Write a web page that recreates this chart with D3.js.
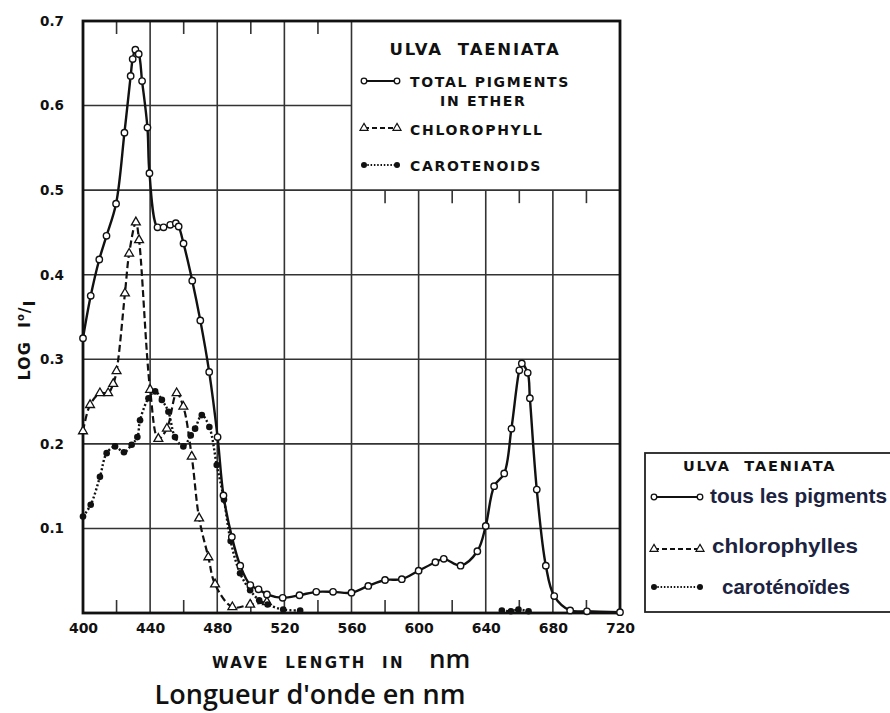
<!DOCTYPE html>
<html>
<head>
<meta charset="utf-8">
<script src="https://cdn.jsdelivr.net/npm/d3@7"></script>
<style>
  html, body { margin: 0; padding: 0; background: #ffffff; }
  svg { display: block; }
</style>
</head>
<body>
<svg id="chart" width="890" height="713"></svg>
<script>
// ---------------- DATA ----------------
const xTickValues = [400, 440, 480, 520, 560, 600, 640, 680, 720];
const yTickValues = [0.1, 0.2, 0.3, 0.4, 0.5, 0.6, 0.7];
const yTickLabels = ["0.1", "0.2", "0.3", "0.4", "0.5", "0.6", "0.7"];
const minorTicks = [420, 460, 500, 540, 580, 620, 660, 700];

const totalWl  = [400, 404.6, 409.7, 414, 419.7, 424.7, 428.4, 429.6, 431.2, 433.2, 435.2, 438.4, 439.6, 444.4, 448, 452, 455.3, 457, 459.9, 465.1, 469.9, 475.2, 480.2, 483.7, 488.7, 493.7, 499.7, 504.6, 509.6, 519, 529, 539, 549, 560, 570, 580, 590, 600, 610, 615, 625, 635, 640, 645, 651, 655.3, 660, 661.5, 665, 666.3, 670.4, 675.8, 680.8, 690.3, 700.3, 720];
const totalVal = [0.325, 0.375, 0.418, 0.446, 0.484, 0.568, 0.635, 0.655, 0.666, 0.661, 0.629, 0.574, 0.520, 0.456, 0.456, 0.459, 0.461, 0.457, 0.437, 0.393, 0.346, 0.285, 0.208, 0.139, 0.090, 0.056, 0.033, 0.028, 0.022, 0.018, 0.021, 0.025, 0.025, 0.024, 0.032, 0.039, 0.040, 0.050, 0.060, 0.064, 0.056, 0.073, 0.103, 0.150, 0.165, 0.218, 0.287, 0.295, 0.284, 0.254, 0.146, 0.056, 0.020, 0.003, 0.002, 0.001];

const chloroWl  = [400, 404.2, 410.1, 415, 418, 420, 425, 427.5, 431.5, 433.4, 440, 444.9, 450, 455.8, 459.8, 464.8, 469.2, 474.7, 478.7, 489, 499.6, 509.6];
const chloroVal = [0.215, 0.246, 0.260, 0.260, 0.271, 0.286, 0.378, 0.425, 0.462, 0.441, 0.264, 0.206, 0.218, 0.260, 0.244, 0.185, 0.112, 0.066, 0.034, 0.007, 0.010, 0.013];

const caroWl  = [400, 404.6, 410.1, 414.1, 419.1, 424.4, 429, 432.4, 434, 439, 443, 447, 450.9, 454.8, 459.8, 464.2, 466.8, 470.8, 475.3, 479.7, 484, 488, 493.6, 499.6, 505, 510, 519.3, 529.4, 590, 649.6, 655, 659.5, 665.5];
const caroVal = [0.114, 0.128, 0.161, 0.189, 0.197, 0.190, 0.199, 0.208, 0.228, 0.254, 0.262, 0.252, 0.238, 0.208, 0.197, 0.210, 0.218, 0.234, 0.220, 0.175, 0.134, 0.085, 0.047, 0.027, 0.015, 0.010, 0.004, 0.003, null, 0.003, 0.002, 0.004, 0.002];

const legendTitle = "ULVA  TAENIATA";
const legendLabels = ["TOTAL PIGMENTS", "IN ETHER", "CHLOROPHYLL", "CAROTENOIDS"];
const frLabels = ["tous les pigments", "chlorophylles", "caroténoïdes"];
const xTitle = "WAVE  LENGTH  IN";
const xTitleUnit = "nm";
const frTitle = "Longueur d'onde en nm";

// ---------------- SETUP ----------------
const svg = d3.select("#chart");
const x = d3.scaleLinear().domain([400, 720]).range([83, 620]);
const y = d3.scaleLinear().domain([0, 0.7]).range([613, 21]);

const ink = "#111";
const gridColor = "#333";
const techFont = "'DejaVu Sans', Verdana, sans-serif";

const toPts = (wl, v) => wl.map((w, i) => ({ w, v: v[i] }));
const total = toPts(totalWl, totalVal);
const chloro = toPts(chloroWl, chloroVal);
const caro = toPts(caroWl, caroVal);

// ---------------- GRID ----------------
const grid = svg.append("g").attr("stroke", gridColor).attr("stroke-width", 1.6);
yTickValues.filter(v => v < 0.7).forEach(v => {
  const x2 = v > 0.5 ? x(560) : x(720);
  grid.append("line").attr("x1", x(400)).attr("x2", x2).attr("y1", y(v)).attr("y2", y(v));
});
xTickValues.filter(v => v > 400 && v < 720).forEach(v => {
  const y1 = v > 560 ? y(0.5) : y(0.7);
  grid.append("line").attr("x1", x(v)).attr("x2", x(v)).attr("y1", y1).attr("y2", y(0));
});
// minor ticks
const tickLen = 13;
minorTicks.forEach(v => {
  grid.append("line").attr("x1", x(v)).attr("x2", x(v)).attr("y1", y(0)).attr("y2", y(0) - tickLen);
  if (v < 560) grid.append("line").attr("x1", x(v)).attr("x2", x(v)).attr("y1", y(0.7)).attr("y2", y(0.7) + tickLen);
  else grid.append("line").attr("x1", x(v)).attr("x2", x(v)).attr("y1", y(0.5)).attr("y2", y(0.5) + tickLen);
});
// frame
svg.append("rect").attr("x", x(400)).attr("y", y(0.7))
  .attr("width", x(720) - x(400)).attr("height", y(0) - y(0.7))
  .attr("fill", "none").attr("stroke", ink).attr("stroke-width", 2.8);

// ---------------- AXES ----------------
const xAxis = d3.axisBottom(x).tickValues(xTickValues).tickSize(0).tickPadding(10).tickFormat(d3.format("d"));
const gx = svg.append("g").attr("transform", `translate(0,${y(0)})`).call(xAxis);
gx.select(".domain").remove();
gx.selectAll("text").attr("font-family", techFont).attr("font-weight", "bold")
  .attr("font-size", 14).attr("fill", ink);

const yAxis = d3.axisLeft(y).tickValues(yTickValues).tickSize(0).tickPadding(19)
  .tickFormat((d, i) => yTickLabels[i]);
const gy = svg.append("g").attr("transform", `translate(${x(400)},0)`).call(yAxis);
gy.select(".domain").remove();
gy.selectAll("text").attr("font-family", techFont).attr("font-weight", "bold")
  .attr("font-size", 13.5).attr("fill", ink);

// Y title
const yt = svg.append("text").attr("transform", "translate(30,340) rotate(-90)")
  .attr("text-anchor", "middle").attr("font-family", techFont).attr("font-weight", "bold")
  .attr("font-size", 16).attr("letter-spacing", 1).attr("fill", ink).attr("xml:space", "preserve");
yt.append("tspan").text("LOG  I");
yt.append("tspan").attr("font-size", 10).attr("dy", -6).text("o");
yt.append("tspan").attr("dy", 6).text("/");
yt.append("tspan").attr("dy", 5).text("I");

// X titles
svg.append("text").attr("x", 212).attr("y", 668).attr("font-family", techFont)
  .attr("font-weight", "bold").attr("font-size", 15).attr("letter-spacing", 2.4).attr("fill", ink)
  .attr("xml:space", "preserve").text(xTitle);
svg.append("text").attr("x", 429).attr("y", 668).attr("font-family", "'Open Sans', sans-serif")
  .attr("font-weight", 600).attr("font-size", 26).attr("fill", "#111").text(xTitleUnit);
svg.append("text").attr("x", 310).attr("y", 704).attr("text-anchor", "middle")
  .attr("font-family", "'Open Sans', sans-serif").attr("font-weight", 600)
  .attr("font-size", 27).attr("fill", "#111").text(frTitle);

// ---------------- SERIES ----------------
const line = d3.line().defined(d => d.v !== null).x(d => x(d.w)).y(d => y(d.v))
  .curve(d3.curveCatmullRom.alpha(0.5));

svg.append("path").datum(caro).attr("d", line).attr("fill", "none").attr("stroke", ink)
  .attr("stroke-width", 2.4).attr("stroke-dasharray", "2,2.2");
svg.append("path").datum(chloro).attr("d", line).attr("fill", "none").attr("stroke", ink)
  .attr("stroke-width", 2.2).attr("stroke-dasharray", "7,3.5");
svg.append("path").datum(total).attr("d", line).attr("fill", "none").attr("stroke", ink)
  .attr("stroke-width", 2.4);

const tri = d3.symbol().type(d3.symbolTriangle).size(34);
svg.append("g").selectAll("path").data(chloro).join("path")
  .attr("d", tri).attr("transform", d => `translate(${x(d.w)},${y(d.v)})`)
  .attr("fill", "#fff").attr("stroke", ink).attr("stroke-width", 1.3);
svg.append("g").selectAll("circle").data(caro.filter(d => d.v !== null)).join("circle")
  .attr("cx", d => x(d.w)).attr("cy", d => y(d.v)).attr("r", 3.3).attr("fill", ink);
svg.append("g").selectAll("circle").data(total).join("circle")
  .attr("cx", d => x(d.w)).attr("cy", d => y(d.v)).attr("r", 3.2)
  .attr("fill", "#fff").attr("stroke", ink).attr("stroke-width", 1.4);

// ---------------- IN-CHART LEGEND ----------------
const lg = svg.append("g").attr("font-family", techFont).attr("font-weight", "bold").attr("fill", ink);
lg.append("text").attr("x", 475).attr("y", 55).attr("text-anchor", "middle")
  .attr("font-size", 16.5).attr("letter-spacing", 1.8).attr("xml:space", "preserve").text(legendTitle);
function legendSymbol(g, x1, x2, yy, kind) {
  const l = g.append("line").attr("x1", x1).attr("x2", x2).attr("y1", yy).attr("y2", yy)
    .attr("stroke", ink).attr("stroke-width", 1.8);
  if (kind === "chloro") l.attr("stroke-dasharray", "5,3");
  if (kind === "caro") l.attr("stroke-dasharray", "1.5,1.8");
  [x1, x2].forEach(xx => {
    if (kind === "total") g.append("circle").attr("cx", xx).attr("cy", yy).attr("r", 2.8)
      .attr("fill", "#fff").attr("stroke", ink).attr("stroke-width", 1.3);
    if (kind === "chloro") g.append("path").attr("d", d3.symbol().type(d3.symbolTriangle).size(28))
      .attr("transform", `translate(${xx},${yy})`).attr("fill", "#fff").attr("stroke", ink).attr("stroke-width", 1.2);
    if (kind === "caro") g.append("circle").attr("cx", xx).attr("cy", yy).attr("r", 3).attr("fill", ink);
  });
}
legendSymbol(lg, 364, 397, 81, "total");
legendSymbol(lg, 364, 397, 128, "chloro");
legendSymbol(lg, 364, 397, 165, "caro");
const lgSize = 14, lgSpace = 1.7;
lg.append("text").attr("x", 410).attr("y", 87).attr("font-size", lgSize).attr("letter-spacing", lgSpace).text(legendLabels[0]);
lg.append("text").attr("x", 440).attr("y", 106).attr("font-size", lgSize).attr("letter-spacing", lgSpace).text(legendLabels[1]);
lg.append("text").attr("x", 410).attr("y", 135).attr("font-size", lgSize).attr("letter-spacing", lgSpace).text(legendLabels[2]);
lg.append("text").attr("x", 410).attr("y", 171).attr("font-size", lgSize).attr("letter-spacing", lgSpace).text(legendLabels[3]);

// ---------------- FRENCH LEGEND BOX ----------------
const fr = svg.append("g");
fr.append("rect").attr("x", 645).attr("y", 453).attr("width", 260).attr("height", 159)
  .attr("fill", "#fff").attr("stroke", "#222").attr("stroke-width", 1.8);
fr.append("text").attr("x", 683).attr("y", 471).attr("font-family", techFont).attr("font-weight", "bold")
  .attr("font-size", 14.5).attr("letter-spacing", 1.8).attr("fill", ink)
  .attr("xml:space", "preserve").text(legendTitle);
legendSymbol(fr, 654, 700, 497, "total");
legendSymbol(fr, 654, 700, 549, "chloro");
legendSymbol(fr, 654, 700, 587, "caro");
const frX = [710, 712, 722];
const frY = [503, 553, 594];
const frW = [177, 146, 128];
frLabels.forEach((t, i) => {
  fr.append("text").attr("x", frX[i]).attr("y", frY[i])
    .attr("font-family", "'Liberation Sans Narrow', 'Liberation Sans', Arial, sans-serif")
    .attr("font-weight", "bold").attr("font-size", 21).attr("fill", "#1c2340")
    .attr("textLength", frW[i]).attr("lengthAdjust", "spacingAndGlyphs").text(t);
});
</script>
</body>
</html>
